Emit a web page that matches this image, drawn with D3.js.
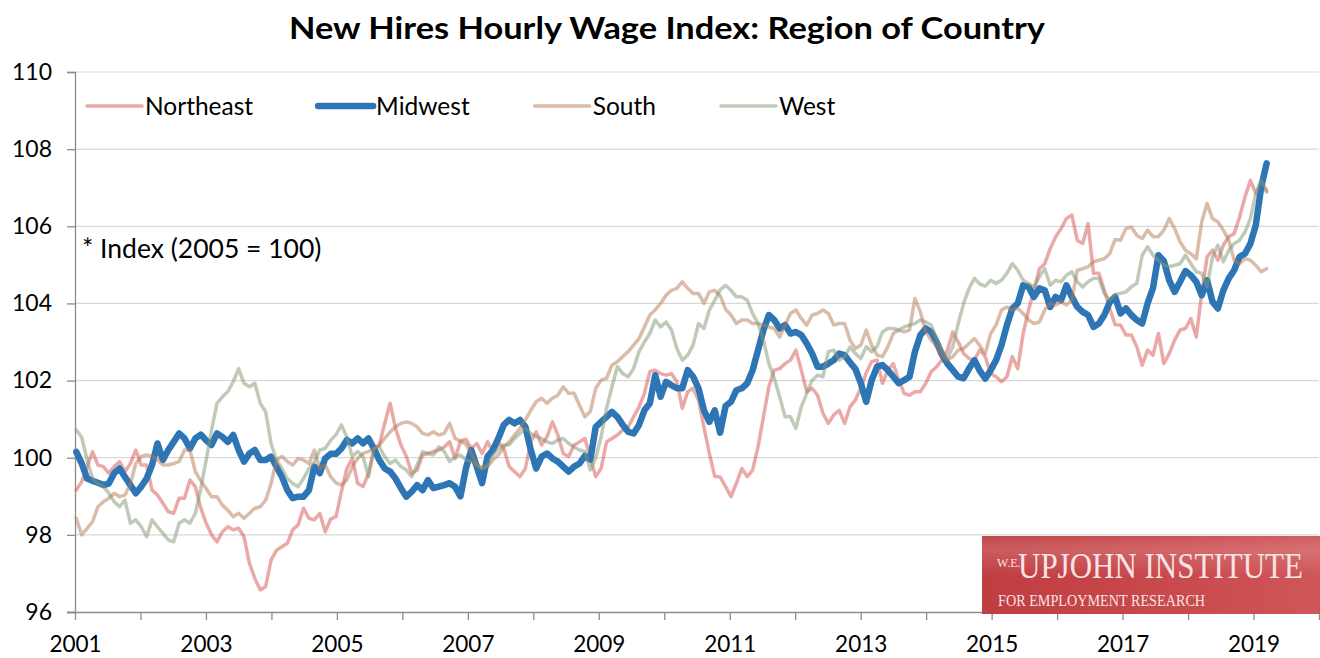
<!DOCTYPE html>
<html>
<head>
<meta charset="utf-8">
<script src="https://cdn.jsdelivr.net/npm/d3@7"></script>
<style>
  html, body { margin: 0; padding: 0; background: #fff; }
  svg { display: block; font-family: Lato, "Open Sans", sans-serif; }
</style>
</head>
<body>
<svg id="chart" width="1320" height="658"></svg>
<script>
// monthly readings, Jan 2001 .. early 2019
const northeast = [
  99.16, 99.38, 99.77, 100.16, 99.81, 99.77, 99.6, 99.77, 99.9, 99.64, 99.85, 100.2,
  99.81, 99.81, 99.16, 99.03, 98.82, 98.6, 98.56, 98.95, 98.95, 99.42, 99.25, 98.7,
  98.3, 98.0, 97.82, 98.08, 98.21, 98.13, 98.17, 97.95, 97.26, 96.87, 96.57, 96.66,
  97.35, 97.6, 97.69, 97.78, 98.13, 98.26, 98.69, 98.43, 98.39, 98.56, 98.08, 98.41,
  98.47, 99.12, 99.72, 99.98, 99.34, 99.25, 99.59, 100.2, 100.33, 100.89, 101.41, 100.76,
  100.33, 100.03, 99.59, 99.68, 100.07, 100.11, 100.16, 100.2, 100.28, 100.41, 99.98, 100.43,
  100.48, 100.24, 100.37, 100.11, 100.41, 100.16, 100.41, 100.24, 99.77, 99.64, 99.51, 99.72,
  100.41, 100.67, 100.33, 100.54, 100.93, 100.59, 100.11, 100.03, 100.33, 100.41, 100.5, 100.0,
  99.51, 99.72, 100.41, 100.5, 100.59, 100.72, 100.8, 101.06, 101.32, 101.67, 102.23, 102.27,
  102.18, 102.14, 102.18, 101.97, 101.28, 101.71, 101.8, 101.49, 100.8, 100.11, 99.51, 99.5,
  99.25, 98.99, 99.34, 99.72, 99.51, 99.68, 100.28, 101.06, 101.84, 102.27, 102.31, 102.44,
  102.53, 102.79, 102.27, 101.71, 101.8, 101.62, 101.15, 100.89, 101.11, 101.23, 100.89, 101.32,
  101.5, 101.8, 102.2, 102.49, 102.53, 101.93, 102.27, 102.44, 102.01, 101.67, 101.62, 101.71,
  101.71, 101.93, 102.23, 102.36, 102.53, 102.79, 103.26, 103.0, 102.7, 102.57, 102.53, 102.8,
  102.62, 102.18, 102.1, 101.97, 102.1, 102.62, 102.31, 103.22, 103.83, 104.34, 104.9, 105.03,
  105.42, 105.73, 105.94, 106.2, 106.29, 105.64, 105.55, 106.07, 104.78, 104.78, 104.34, 103.87,
  103.45, 103.44, 103.18, 103.18, 102.88, 102.4, 102.79, 102.66, 103.22, 102.44, 102.7, 103.05,
  103.31, 103.35, 103.61, 103.13, 104.26, 105.21, 105.38, 105.12, 105.51, 105.73, 105.81, 106.24,
  106.76, 107.19, 106.85, 107.11, 106.89
];

const midwest = [
  100.15, 99.85, 99.46, 99.4, 99.35, 99.29, 99.33, 99.6, 99.72, 99.5, 99.29, 99.08,
  99.25, 99.46, 99.81, 100.37, 99.94, 100.2, 100.41, 100.63, 100.5, 100.24, 100.5, 100.6,
  100.45, 100.33, 100.63, 100.54, 100.41, 100.59, 100.2, 99.9, 100.11, 100.2, 99.94, 99.94,
  100.03, 99.77, 99.51, 99.16, 98.95, 98.99, 98.99, 99.16, 99.77, 99.6, 99.98, 100.1,
  100.1, 100.24, 100.46, 100.37, 100.5, 100.37, 100.5, 100.24, 99.94, 99.72, 99.64, 99.46,
  99.21, 98.99, 99.12, 99.29, 99.16, 99.42, 99.21, 99.25, 99.29, 99.34, 99.25, 99.0,
  99.72, 100.2, 99.77, 99.34, 100.03, 100.2, 100.5, 100.85, 100.98, 100.89, 100.98, 100.8,
  100.2, 99.72, 100.03, 100.11, 99.98, 99.9, 99.77, 99.64, 99.77, 99.85, 100.05, 99.95,
  100.8, 100.93, 101.06, 101.19, 101.06, 100.85, 100.67, 100.63, 100.85, 101.23, 101.41, 102.14,
  101.58, 101.97, 101.88, 101.8, 101.8, 102.27, 102.1, 101.8, 101.23, 100.93, 101.23, 100.65,
  101.34, 101.45, 101.75, 101.8, 101.93, 102.27, 102.79, 103.31, 103.7, 103.57, 103.35, 103.44,
  103.22, 103.26, 103.18, 102.96, 102.7, 102.36, 102.36, 102.44, 102.53, 102.7, 102.66, 102.47,
  102.3, 101.93, 101.45, 102.01, 102.36, 102.4, 102.27, 102.1, 101.93, 102.01, 102.1, 102.75,
  103.18, 103.35, 103.26, 103.0, 102.66, 102.44, 102.27, 102.1, 102.06, 102.31, 102.53, 102.25,
  102.05, 102.27, 102.53, 102.92, 103.44, 103.87, 104.0, 104.47, 104.43, 104.17, 104.39, 104.34,
  103.91, 104.17, 104.08, 104.47, 104.17, 103.91, 103.78, 103.7, 103.39, 103.48, 103.7, 104.03,
  104.17, 103.74, 103.87, 103.7, 103.57, 103.48, 104.0, 104.4, 105.25, 105.1, 104.6, 104.3,
  104.56, 104.84, 104.73, 104.56, 104.21, 104.6, 104.04, 103.87, 104.34, 104.65, 104.86, 105.21,
  105.29, 105.55, 106.03, 107.02, 107.63
];

const south = [
  98.43, 98.0, 98.17, 98.34, 98.73, 98.86, 98.95, 99.08, 98.99, 99.03, 99.33, 99.85,
  100.03, 100.07, 100.03, 99.94, 99.81, 99.81, 99.85, 99.9, 100.2, 100.2, 99.64, 99.4,
  99.2, 98.99, 98.99, 98.77, 98.64, 98.47, 98.56, 98.43, 98.56, 98.69, 98.73, 98.9,
  99.33, 99.94, 100.03, 99.9, 99.81, 99.98, 99.94, 99.85, 100.2, 99.72, 99.81, 99.51,
  99.35, 99.29, 99.42, 99.77, 99.98, 100.11, 100.16, 100.24, 100.33, 100.5, 100.67, 100.8,
  100.89, 100.93, 100.89, 100.8, 100.63, 100.59, 100.67, 100.59, 100.63, 100.89, 100.5, 100.43,
  100.35, 100.11, 99.85, 99.72, 99.77, 99.94, 100.07, 100.28, 100.41, 100.59, 100.76, 100.98,
  101.23, 101.45, 101.54, 101.41, 101.54, 101.62, 101.84, 101.67, 101.67, 101.36, 101.06, 101.2,
  101.8, 102.01, 102.06, 102.4, 102.49, 102.62, 102.75, 102.92, 103.09, 103.39, 103.7, 103.83,
  104.0, 104.21, 104.34, 104.39, 104.56, 104.39, 104.26, 104.26, 104.0, 104.3, 104.34, 104.2,
  103.85, 103.7, 103.48, 103.57, 103.57, 103.48, 103.48, 103.44, 103.39, 103.35, 103.13, 103.44,
  103.74, 103.83, 103.61, 103.44, 103.7, 103.74, 103.83, 103.74, 103.44, 103.48, 103.48, 103.05,
  102.83, 102.92, 103.31, 102.92, 102.66, 102.62, 102.88, 103.22, 103.31, 103.26, 103.31, 104.13,
  103.78, 103.26, 103.05, 102.88, 102.62, 102.53, 102.62, 102.79, 102.83, 102.96, 103.09, 102.9,
  102.7, 103.22, 103.44, 103.83, 103.91, 103.83, 103.87, 103.74, 103.57, 103.48, 103.52, 103.83,
  104.0, 103.96, 104.04, 103.96, 104.08, 104.86, 104.9, 104.95, 105.08, 105.12, 105.16, 105.29,
  105.66, 105.64, 105.94, 105.98, 105.77, 105.68, 105.9, 105.73, 105.73, 105.9, 106.2, 105.94,
  105.6, 105.38, 105.29, 105.16, 106.11, 106.59, 106.2, 106.11, 105.9, 105.64, 105.12, 105.03,
  105.16, 105.12, 104.99, 104.82, 104.9
];

const west = [
  100.72, 100.53, 99.94, 99.46, 99.33, 99.25, 99.08, 98.86, 98.73, 98.9, 98.3, 98.39,
  98.21, 97.95, 98.39, 98.21, 98.04, 97.87, 97.82, 98.3, 98.39, 98.3, 98.56, 99.2,
  99.94, 100.72, 101.41, 101.58, 101.71, 101.97, 102.31, 101.93, 101.84, 101.93, 101.41, 101.19,
  100.37, 99.94, 99.72, 99.46, 99.33, 99.25, 99.46, 99.72, 99.9, 100.2, 100.24, 100.45,
  100.6, 100.85, 100.54, 100.03, 100.16, 100.03, 99.51, 100.24, 100.28, 100.03, 99.85, 99.94,
  99.77, 99.68, 99.51, 99.81, 100.16, 100.11, 100.07, 100.28, 100.16, 99.9, 100.03, 100.07,
  99.95, 99.9, 99.81, 99.72, 99.81, 100.07, 100.24, 100.33, 100.33, 100.5, 100.63, 100.76,
  100.63, 100.54, 100.5, 100.41, 100.37, 100.46, 100.5, 100.37, 100.28, 100.2, 100.16, 99.68,
  100.0, 100.54, 101.28, 101.84, 102.36, 102.18, 102.1, 102.31, 102.75, 103.0, 103.22, 103.57,
  103.39, 103.52, 103.31, 102.83, 102.53, 102.66, 102.92, 103.48, 103.35, 103.83, 104.08, 104.35,
  104.47, 104.34, 104.17, 104.17, 104.08, 103.74, 103.48, 103.05, 102.44, 102.06, 101.58, 101.06,
  101.06, 100.76, 101.32, 101.67, 102.01, 102.14, 102.1, 102.75, 102.79, 102.53, 102.62, 102.87,
  102.7, 102.57, 102.88, 102.75, 102.88, 103.26, 103.35, 103.35, 103.31, 103.39, 103.44, 103.48,
  103.57, 103.52, 103.44, 103.09, 102.79, 102.57, 102.88, 103.48, 104.0, 104.39, 104.65, 104.5,
  104.45, 104.6, 104.52, 104.6, 104.78, 105.03, 104.86, 104.6, 104.52, 104.43, 104.69, 104.9,
  104.47, 104.6, 104.56, 104.73, 104.82, 104.56, 104.43, 104.56, 104.65, 104.65, 104.26, 104.1,
  104.23, 104.26, 104.3, 104.43, 104.52, 105.25, 105.47, 105.25, 105.12, 104.99, 104.95, 104.99,
  105.03, 105.25, 105.03, 104.82, 104.78, 104.43, 105.21, 105.51, 105.08, 105.38, 105.55, 105.64,
  105.85, 106.2, 106.85, 107.19, 106.93
];

const seriesNames = ['Northeast', 'Midwest', 'South', 'West'];
const yTicks = [96, 98, 100, 102, 104, 106, 108, 110];
const xTickYears = d3.range(2001, 2021);
const xLabelYears = [2001, 2003, 2005, 2007, 2009, 2011, 2013, 2015, 2017, 2019];
const firstReading = 2001.02;   // fractional years of first / last reading
const lastReading = 2019.2;

const styles = {
  Northeast: { color: '#d5534f', opacity: 0.5, width: 3.5 },
  Midwest:   { color: '#2e75b6', opacity: 1,   width: 6.5 },
  South:     { color: '#b37953', opacity: 0.5, width: 3.5 },
  West:      { color: '#7f9771', opacity: 0.5, width: 3.5 }
};

const svg = d3.select('#chart');
const margin = { left: 75, right: 1319, top: 72, bottom: 612 };

const x = d3.scaleLinear().domain([2001, 2020]).range([margin.left, margin.right]);
const y = d3.scaleLinear().domain([96, 110]).range([margin.bottom, margin.top]);

// title
svg.append('text')
  .attr('x', 667).attr('y', 39)
  .attr('text-anchor', 'middle')
  .attr('textLength', 756).attr('lengthAdjust', 'spacingAndGlyphs')
  .style('font-size', '31px').style('font-weight', 'bold')
  .attr('fill', '#000')
  .text('New Hires Hourly Wage Index: Region of Country');

// gridlines
svg.append('g').selectAll('line')
  .data(yTicks.filter(v => v > 96))
  .join('line')
  .attr('x1', margin.left).attr('x2', margin.right)
  .attr('y1', d => y(d)).attr('y2', d => y(d))
  .attr('stroke', '#d9d9d9').attr('stroke-width', 1.2);

// y axis
const yAxis = svg.append('g')
  .attr('transform', `translate(${margin.left},0)`)
  .call(d3.axisLeft(y).tickValues(yTicks).tickSize(8).tickPadding(15).tickFormat(d3.format('d')));
yAxis.select('.domain').attr('stroke', '#8c8c8c').attr('stroke-width', 1.3);
yAxis.selectAll('.tick line').attr('stroke', '#8c8c8c').attr('stroke-width', 1.3);
yAxis.selectAll('.tick text').style('font-size', '23px').style('font-family', 'Lato, sans-serif').attr('fill', '#000');

// x axis
const xAxis = svg.append('g')
  .attr('transform', `translate(0,${margin.bottom})`)
  .call(d3.axisBottom(x).tickValues(xTickYears).tickSize(8).tickPadding(16)
    .tickFormat(d => xLabelYears.includes(d) ? String(d) : ''));
xAxis.select('.domain').attr('d', `M${margin.left - 8},0.5H${margin.right}`)
  .attr('stroke', '#8c8c8c').attr('stroke-width', 1.3);
xAxis.selectAll('.tick line').attr('stroke', '#8c8c8c').attr('stroke-width', 1.3);
xAxis.selectAll('.tick text').style('font-size', '22.5px').style('font-family', 'Lato, sans-serif').attr('fill', '#000');

// series
const n = midwest.length;
const readingYear = d3.scaleLinear().domain([0, n - 1]).range([firstReading, lastReading]);
const seriesData = {
  Northeast: northeast, Midwest: midwest, South: south, West: west
};
const line = d3.line()
  .x((d, i) => x(readingYear(i)))
  .y(d => y(d));

const plot = svg.append('g');
seriesNames.forEach(name => {
  const s = styles[name];
  plot.append('path')
    .datum(seriesData[name])
    .attr('d', line)
    .attr('fill', 'none')
    .attr('stroke', s.color)
    .attr('stroke-opacity', s.opacity)
    .attr('stroke-width', s.width)
    .attr('stroke-linejoin', 'round')
    .attr('stroke-linecap', 'round');
});

// legend
const legend = svg.append('g').attr('transform', 'translate(87,106)');
let lx = 0;
seriesNames.forEach(name => {
  const s = styles[name];
  legend.append('line')
    .attr('x1', lx).attr('x2', lx + 55)
    .attr('stroke', s.color).attr('stroke-opacity', s.opacity)
    .attr('stroke-width', s.width).attr('stroke-linecap', 'round');
  const t = legend.append('text')
    .attr('x', lx + 58).attr('dy', '0.35em')
    .style('font-size', '24.5px').attr('fill', '#000')
    .text(name);
  lx += 58 + t.node().getComputedTextLength() + 65;
});

// note
svg.append('text')
  .attr('x', 82).attr('y', 258)
  .style('font-size', '26.5px').attr('fill', '#000')
  .text('* Index (2005 = 100)');

// logo
const defs = svg.append('defs');
const grad = defs.append('linearGradient').attr('id', 'logoGrad')
  .attr('x1', '0%').attr('y1', '0%').attr('x2', '100%').attr('y2', '0%');
grad.append('stop').attr('offset', '0%').attr('stop-color', '#c03d41');
grad.append('stop').attr('offset', '55%').attr('stop-color', '#c9494c');
grad.append('stop').attr('offset', '100%').attr('stop-color', '#cf5658');
const band = defs.append('linearGradient').attr('id', 'logoBand')
  .attr('x1', '0%').attr('y1', '0%').attr('x2', '0%').attr('y2', '100%');
band.append('stop').attr('offset', '0%').attr('stop-color', '#ffffff').attr('stop-opacity', 0.05);
band.append('stop').attr('offset', '35%').attr('stop-color', '#ffffff').attr('stop-opacity', 0.16);
band.append('stop').attr('offset', '100%').attr('stop-color', '#ffffff').attr('stop-opacity', 0);

const logo = svg.append('g').attr('transform', 'translate(982,536)');
logo.append('rect').attr('width', 338).attr('height', 78).attr('fill', 'url(#logoGrad)');
logo.append('rect').attr('width', 338).attr('height', 40).attr('fill', 'url(#logoBand)');
logo.append('text')
  .attr('x', 15).attr('y', 31)
  .style('font-family', '"Liberation Serif", serif').style('font-size', '12px')
  .attr('fill', '#f6e4e4')
  .text('W.E.');
// big name: natural-width font, stretched vertically to the logo's tall caps
logo.append('g')
  .attr('transform', 'translate(36,42) scale(1,1.18)')
  .append('text')
  .style('font-family', '"Liberation Serif", serif').style('font-size', '31px')
  .attr('fill', '#f6e4e4')
  .text('UPJOHN INSTITUTE');
logo.append('g')
  .attr('transform', 'translate(16,70) scale(1,1.22)')
  .append('text')
  .style('font-family', '"Liberation Serif", serif').style('font-size', '14.2px')
  .attr('fill', '#f6e4e4')
  .text('FOR EMPLOYMENT RESEARCH');
</script>
</body>
</html>
